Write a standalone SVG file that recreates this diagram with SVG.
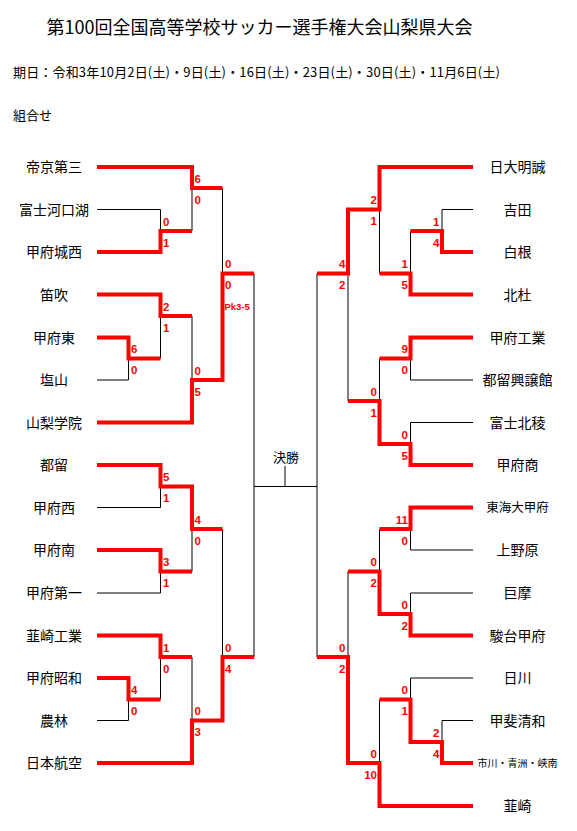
<svg xmlns="http://www.w3.org/2000/svg" width="577" height="831" viewBox="0 0 577 831">
<style>
.bg{fill:#fff}
.t{font-family:"Noto Sans CJK JP","Noto Sans CJK SC",sans-serif;font-size:14px;fill:#000;text-anchor:middle}
.h{font-family:"Noto Sans CJK JP","Noto Sans CJK SC",sans-serif;fill:#000}
.k{fill:none;stroke:#000;stroke-width:1}
.r{fill:none;stroke:#ff0000;stroke-width:4;stroke-linejoin:miter;stroke-linecap:butt}
.s{font-family:"Liberation Sans",Arial,sans-serif;font-weight:bold;font-size:11.5px;fill:#ff0000}
.sl{text-anchor:start}
.sr{text-anchor:end}
</style>
<rect class="bg" x="0" y="0" width="577" height="831"/>
<g id="header">
<text class="h" x="259.5" y="33.5" style="font-size:18px" text-anchor="middle">第100回全国高等学校サッカー選手権大会山梨県大会</text>
<text class="h" x="13" y="76.5" style="font-size:13px" textLength="487" lengthAdjust="spacing">期日：令和3年10月2日(土)・9日(土)・16日(土)・23日(土)・30日(土)・11月6日(土)</text>
<text class="h" x="13" y="120" style="font-size:13px">組合せ</text>
</g>
<g id="connectors">
<path class="k" d="M97 209.5H160.5M97 380H128.5M97 507.5H160.5M97 593H160.5M97 720.5H128.5"/>
<path class="k" d="M160.5 209.5V252M192 167V231M128.5 337.5V380M160.5 294.5V358.5M192 316V422.5M222.5 188V380M254 273.5V657M160.5 465V507.5M160.5 550V593M192 486.5V571.5M128.5 678V720.5M160.5 635.5V699.5M192 657V763M222.5 529V720.5"/>
<path class="k" d="M254 486.5H317M285 466V486.5"/>
<path class="k" d="M473 209.5H442M473 380H410.5M473 422.5H410.5M473 550H410.5M473 593H410.5M473 678H410.5M473 720.5H442"/>
<path class="k" d="M442 209.5V252M410.5 231V294.5M379.5 167V273.5M410.5 337.5V380M410.5 422.5V465M379.5 358.5V444M348 209.5V401M317 273.5V657M410.5 507.5V550M410.5 593V635.5M379.5 529V614M442 720.5V763M410.5 678V742M379.5 699.5V806M348 571.5V763"/>
<path class="r" d="M97 167H192V188H222.5"/>
<path class="r" d="M97 252H160.5V231H192"/>
<path class="r" d="M97 337.5H128.5V358.5H160.5"/>
<path class="r" d="M97 294.5H160.5V316H192"/>
<path class="r" d="M97 422.5H192V380H222.5V273.5H254"/>
<path class="r" d="M97 465H160.5V486.5H192V529H222.5"/>
<path class="r" d="M97 550H160.5V571.5H192"/>
<path class="r" d="M97 678H128.5V699.5H160.5"/>
<path class="r" d="M97 635.5H160.5V657H192"/>
<path class="r" d="M97 763H192V720.5H222.5V657H254"/>
<path class="r" d="M473 167H379.5V209.5H348V273.5H317"/>
<path class="r" d="M473 252H442V231H410.5"/>
<path class="r" d="M473 294.5H410.5V273.5H379.5"/>
<path class="r" d="M473 337.5H410.5V358.5H379.5"/>
<path class="r" d="M473 465H410.5V444H379.5V401H348"/>
<path class="r" d="M473 507.5H410.5V529H379.5"/>
<path class="r" d="M473 635.5H410.5V614H379.5V571.5H348"/>
<path class="r" d="M473 763H442V742H410.5V699.5H379.5"/>
<path class="r" d="M473 806H379.5V763H348V657H317"/>
</g>
<g id="scores">
<text class="s sl" x="163" y="225.5">0</text><text class="s sl" x="163" y="246.5">1</text>
<text class="s sl" x="194.5" y="182.5">6</text><text class="s sl" x="194.5" y="203.5">0</text>
<text class="s sl" x="131" y="353">6</text><text class="s sl" x="131" y="374">0</text>
<text class="s sl" x="163" y="310.5">2</text><text class="s sl" x="163" y="331.5">1</text>
<text class="s sl" x="194.5" y="374.5">0</text><text class="s sl" x="194.5" y="395.5">5</text>
<text class="s sl" x="225" y="268">0</text><text class="s sl" x="225" y="289">0</text>
<text class="s sl" x="224.5" y="309.5" style="font-size:9.5px">Pk3-5</text>
<text class="s sl" x="163" y="481">5</text><text class="s sl" x="163" y="502">1</text>
<text class="s sl" x="163" y="566">3</text><text class="s sl" x="163" y="587">1</text>
<text class="s sl" x="194.5" y="523.5">4</text><text class="s sl" x="194.5" y="544.5">0</text>
<text class="s sl" x="131" y="694">4</text><text class="s sl" x="131" y="715">0</text>
<text class="s sl" x="163" y="651.5">1</text><text class="s sl" x="163" y="672.5">0</text>
<text class="s sl" x="194.5" y="715">0</text><text class="s sl" x="194.5" y="736">3</text>
<text class="s sl" x="225" y="651.5">0</text><text class="s sl" x="225" y="672.5">4</text>
<text class="s sr" x="439.5" y="225.5">1</text><text class="s sr" x="439.5" y="246.5">4</text>
<text class="s sr" x="408" y="268">1</text><text class="s sr" x="408" y="289">5</text>
<text class="s sr" x="377" y="204">2</text><text class="s sr" x="377" y="225">1</text>
<text class="s sr" x="408" y="353">9</text><text class="s sr" x="408" y="374">0</text>
<text class="s sr" x="408" y="438.5">0</text><text class="s sr" x="408" y="459.5">5</text>
<text class="s sr" x="377" y="395.5">0</text><text class="s sr" x="377" y="416.5">1</text>
<text class="s sr" x="345.5" y="268">4</text><text class="s sr" x="345.5" y="289">2</text>
<text class="s sr" x="408" y="523.5">11</text><text class="s sr" x="408" y="544.5">0</text>
<text class="s sr" x="408" y="608.5">0</text><text class="s sr" x="408" y="629.5">2</text>
<text class="s sr" x="377" y="566">0</text><text class="s sr" x="377" y="587">2</text>
<text class="s sr" x="439.5" y="736.5">2</text><text class="s sr" x="439.5" y="757.5">4</text>
<text class="s sr" x="408" y="694">0</text><text class="s sr" x="408" y="715">1</text>
<text class="s sr" x="377" y="757.5">0</text><text class="s sr" x="377" y="778.5">10</text>
<text class="s sr" x="345.5" y="651.5">0</text><text class="s sr" x="345.5" y="672.5">2</text>
</g>
<g id="final"><text class="h" x="286" y="461.5" style="font-size:13px" text-anchor="middle">決勝</text></g>
<g id="team-teikyo3"><text class="t" x="54" y="172">帝京第三</text></g>
<g id="team-fujikawaguchiko"><text class="t" x="54" y="214.5">富士河口湖</text></g>
<g id="team-kofujosai"><text class="t" x="54" y="257">甲府城西</text></g>
<g id="team-fuefuki"><text class="t" x="54" y="299.5">笛吹</text></g>
<g id="team-kofuhigashi"><text class="t" x="54" y="342.5">甲府東</text></g>
<g id="team-enzan"><text class="t" x="54" y="385">塩山</text></g>
<g id="team-yamanashigakuin"><text class="t" x="54" y="427.5">山梨学院</text></g>
<g id="team-tsuru"><text class="t" x="54" y="470">都留</text></g>
<g id="team-kofunishi"><text class="t" x="54" y="512.5">甲府西</text></g>
<g id="team-kofuminami"><text class="t" x="54" y="555">甲府南</text></g>
<g id="team-kofudaiichi"><text class="t" x="54" y="598">甲府第一</text></g>
<g id="team-nirasakikogyo"><text class="t" x="54" y="640.5">韮崎工業</text></g>
<g id="team-kofushowa"><text class="t" x="54" y="683">甲府昭和</text></g>
<g id="team-norin"><text class="t" x="54" y="725.5">農林</text></g>
<g id="team-nihonkoku"><text class="t" x="54" y="768">日本航空</text></g>
<g id="team-nichidaimeisei"><text class="t" x="517.5" y="172">日大明誠</text></g>
<g id="team-yoshida"><text class="t" x="517.5" y="214.5">吉田</text></g>
<g id="team-shirane"><text class="t" x="517.5" y="257">白根</text></g>
<g id="team-hokuto"><text class="t" x="517.5" y="299.5">北杜</text></g>
<g id="team-kofukogyo"><text class="t" x="517.5" y="342.5">甲府工業</text></g>
<g id="team-tsurukojokan"><text class="t" x="517.5" y="385">都留興譲館</text></g>
<g id="team-fujihokuryo"><text class="t" x="517.5" y="427.5">富士北稜</text></g>
<g id="team-kofusho"><text class="t" x="517.5" y="470">甲府商</text></g>
<g id="team-tokaidaikofu"><text class="t" x="517.5" y="512" style="font-size:12.5px">東海大甲府</text></g>
<g id="team-uenohara"><text class="t" x="517.5" y="555">上野原</text></g>
<g id="team-koma"><text class="t" x="517.5" y="598">巨摩</text></g>
<g id="team-sundaikofu"><text class="t" x="517.5" y="640.5">駿台甲府</text></g>
<g id="team-nikkawa"><text class="t" x="517.5" y="683">日川</text></g>
<g id="team-kaiseiwa"><text class="t" x="517.5" y="725.5">甲斐清和</text></g>
<g id="team-ichikawa"><text class="t" x="517.5" y="767" style="font-size:10px">市川・青洲・峡南</text></g>
<g id="team-nirasaki"><text class="t" x="517.5" y="811">韮崎</text></g>
</svg>
